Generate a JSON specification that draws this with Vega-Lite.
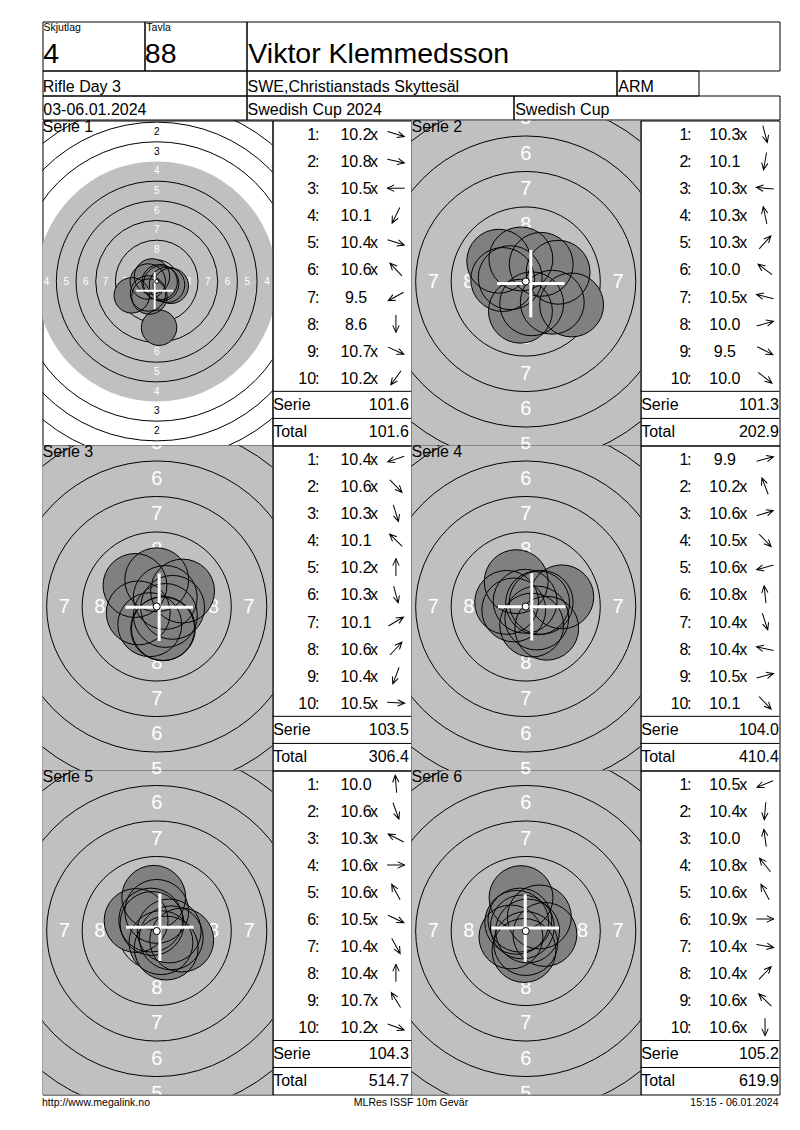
{
  "$schema": "https://vega.github.io/schema/vega-lite/v6.json",
  "padding": {"left": 41.5, "top": 20.5, "right": 0, "bottom": 0},
  "data": {"name": "info"},
  "datasets": {
    "info": [
      {"squad": 4, "lane": 88, "name": "Viktor Klemmedsson", "event": "Rifle Day 3", "club": "SWE,Christianstads Skyttesäl", "cls": "ARM", "date": "03-06.01.2024", "match": "Swedish Cup 2024", "cup": "Swedish Cup", "site": "http://www.megalink.no", "prog": "MLRes ISSF 10m Gevär", "printed": "15:15 - 06.01.2024"}
    ],
    "rings": [
      {"ring": 1, "r": 22.75, "mx": 0, "my": 0},
      {"ring": 2, "r": 20.25, "mx": 0, "my": 0},
      {"ring": 3, "r": 17.75, "mx": 0, "my": 0},
      {"ring": 4, "r": 15.25, "mx": 0, "my": 0},
      {"ring": 5, "r": 12.75, "mx": 0, "my": 0},
      {"ring": 6, "r": 10.25, "mx": 0, "my": 0},
      {"ring": 7, "r": 7.75, "mx": 0, "my": 0},
      {"ring": 8, "r": 5.25, "mx": 0, "my": 0},
      {"ring": 9, "r": 2.75, "mx": 0, "my": 0},
      {"ring": 10, "r": 0.25, "mx": 0, "my": 0}
    ],
    "labels": [
      {"ring": 2, "mx": 0, "my": 19}, {"ring": 2, "mx": 0, "my": -19}, {"ring": 2, "mx": 19, "my": 0}, {"ring": 2, "mx": -19, "my": 0},
      {"ring": 3, "mx": 0, "my": 16.5}, {"ring": 3, "mx": 0, "my": -16.5}, {"ring": 3, "mx": 16.5, "my": 0}, {"ring": 3, "mx": -16.5, "my": 0},
      {"ring": 4, "mx": 0, "my": 14}, {"ring": 4, "mx": 0, "my": -14}, {"ring": 4, "mx": 14, "my": 0}, {"ring": 4, "mx": -14, "my": 0},
      {"ring": 5, "mx": 0, "my": 11.5}, {"ring": 5, "mx": 0, "my": -11.5}, {"ring": 5, "mx": 11.5, "my": 0}, {"ring": 5, "mx": -11.5, "my": 0},
      {"ring": 6, "mx": 0, "my": 9}, {"ring": 6, "mx": 0, "my": -9}, {"ring": 6, "mx": 9, "my": 0}, {"ring": 6, "mx": -9, "my": 0},
      {"ring": 7, "mx": 0, "my": 6.5}, {"ring": 7, "mx": 0, "my": -6.5}, {"ring": 7, "mx": 6.5, "my": 0}, {"ring": 7, "mx": -6.5, "my": 0},
      {"ring": 8, "mx": 0, "my": 4}, {"ring": 8, "mx": 0, "my": -4}, {"ring": 8, "mx": 4, "my": 0}, {"ring": 8, "mx": -4, "my": 0}
    ],
    "shots": [
      {"serie": 1, "n": 1, "score": 10.2, "inner": true, "mx": 1.79, "my": -0.55, "dir": 343},
      {"serie": 1, "n": 2, "score": 10.8, "inner": true, "mx": 0.37, "my": -0.08, "dir": 347},
      {"serie": 1, "n": 3, "score": 10.5, "inner": true, "mx": -1.13, "my": 0, "dir": 180},
      {"serie": 1, "n": 4, "score": 10.1, "inner": false, "mx": -0.93, "my": -1.91, "dir": 244},
      {"serie": 1, "n": 5, "score": 10.4, "inner": true, "mx": 1.31, "my": -0.42, "dir": 342},
      {"serie": 1, "n": 6, "score": 10.6, "inner": true, "mx": -0.6, "my": 0.64, "dir": 133},
      {"serie": 1, "n": 7, "score": 9.5, "inner": false, "mx": -3.17, "my": -1.76, "dir": 209},
      {"serie": 1, "n": 8, "score": 8.6, "inner": false, "mx": 0.3, "my": -5.87, "dir": 270},
      {"serie": 1, "n": 9, "score": 10.7, "inner": true, "mx": 0.57, "my": -0.25, "dir": 336},
      {"serie": 1, "n": 10, "score": 10.2, "inner": true, "mx": -1.1, "my": -1.52, "dir": 234},
      {"serie": 2, "n": 1, "score": 10.3, "inner": true, "mx": 0.42, "my": -1.57, "dir": 285},
      {"serie": 2, "n": 2, "score": 10.1, "inner": false, "mx": -0.37, "my": -2.09, "dir": 260},
      {"serie": 2, "n": 3, "score": 10.3, "inner": true, "mx": -1.62, "my": 0.14, "dir": 175},
      {"serie": 2, "n": 4, "score": 10.3, "inner": true, "mx": -0.34, "my": 1.59, "dir": 102},
      {"serie": 2, "n": 5, "score": 10.3, "inner": true, "mx": 1.09, "my": 1.21, "dir": 48},
      {"serie": 2, "n": 6, "score": 10.0, "inner": false, "mx": -1.9, "my": 1.43, "dir": 143},
      {"serie": 2, "n": 7, "score": 10.5, "inner": true, "mx": -1.09, "my": 0.27, "dir": 166},
      {"serie": 2, "n": 8, "score": 10.0, "inner": false, "mx": 2.28, "my": 0.65, "dir": 16},
      {"serie": 2, "n": 9, "score": 9.5, "inner": false, "mx": 3.23, "my": -1.65, "dir": 333},
      {"serie": 2, "n": 10, "score": 10.0, "inner": false, "mx": 1.87, "my": -1.46, "dir": 322},
      {"serie": 3, "n": 1, "score": 10.4, "inner": true, "mx": -1.3, "my": -0.45, "dir": 199},
      {"serie": 3, "n": 2, "score": 10.6, "inner": true, "mx": 0.61, "my": -0.63, "dir": 314},
      {"serie": 3, "n": 3, "score": 10.3, "inner": true, "mx": 0.47, "my": -1.55, "dir": 287},
      {"serie": 3, "n": 4, "score": 10.1, "inner": false, "mx": -1.53, "my": 1.48, "dir": 136},
      {"serie": 3, "n": 5, "score": 10.2, "inner": true, "mx": 0, "my": 1.88, "dir": 90},
      {"serie": 3, "n": 6, "score": 10.3, "inner": true, "mx": 0.42, "my": -1.57, "dir": 285},
      {"serie": 3, "n": 7, "score": 10.1, "inner": false, "mx": 1.82, "my": 1.09, "dir": 31},
      {"serie": 3, "n": 8, "score": 10.6, "inner": true, "mx": 0.6, "my": 0.64, "dir": 47},
      {"serie": 3, "n": 9, "score": 10.4, "inner": true, "mx": -0.49, "my": -1.28, "dir": 249},
      {"serie": 3, "n": 10, "score": 10.5, "inner": true, "mx": 1.12, "my": -0.06, "dir": 357},
      {"serie": 4, "n": 1, "score": 9.9, "inner": false, "mx": 2.54, "my": 0.68, "dir": 15},
      {"serie": 4, "n": 2, "score": 10.2, "inner": true, "mx": -0.67, "my": 1.75, "dir": 111},
      {"serie": 4, "n": 3, "score": 10.6, "inner": true, "mx": 0.84, "my": 0.26, "dir": 17},
      {"serie": 4, "n": 4, "score": 10.5, "inner": true, "mx": 0.78, "my": -0.81, "dir": 314},
      {"serie": 4, "n": 5, "score": 10.6, "inner": true, "mx": -0.84, "my": -0.24, "dir": 196},
      {"serie": 4, "n": 6, "score": 10.8, "inner": true, "mx": -0.04, "my": 0.37, "dir": 96},
      {"serie": 4, "n": 7, "score": 10.4, "inner": true, "mx": 0.42, "my": -1.31, "dir": 288},
      {"serie": 4, "n": 8, "score": 10.4, "inner": true, "mx": -1.34, "my": 0.29, "dir": 168},
      {"serie": 4, "n": 9, "score": 10.5, "inner": true, "mx": 1.09, "my": 0.29, "dir": 15},
      {"serie": 4, "n": 10, "score": 10.1, "inner": false, "mx": 1.48, "my": -1.53, "dir": 314},
      {"serie": 5, "n": 1, "score": 10.0, "inner": false, "mx": -0.21, "my": 2.37, "dir": 95},
      {"serie": 5, "n": 2, "score": 10.6, "inner": true, "mx": 0.3, "my": -0.82, "dir": 290},
      {"serie": 5, "n": 3, "score": 10.3, "inner": true, "mx": -1.45, "my": 0.74, "dir": 153},
      {"serie": 5, "n": 4, "score": 10.6, "inner": true, "mx": 0.88, "my": 0, "dir": 0},
      {"serie": 5, "n": 5, "score": 10.6, "inner": true, "mx": -0.42, "my": 0.77, "dir": 119},
      {"serie": 5, "n": 6, "score": 10.5, "inner": true, "mx": 1.02, "my": -0.48, "dir": 335},
      {"serie": 5, "n": 7, "score": 10.4, "inner": true, "mx": 0.67, "my": -1.2, "dir": 299},
      {"serie": 5, "n": 8, "score": 10.4, "inner": true, "mx": 0, "my": 1.38, "dir": 90},
      {"serie": 5, "n": 9, "score": 10.7, "inner": true, "mx": -0.33, "my": 0.53, "dir": 122},
      {"serie": 5, "n": 10, "score": 10.2, "inner": true, "mx": 1.76, "my": -0.64, "dir": 340},
      {"serie": 6, "n": 1, "score": 10.5, "inner": true, "mx": -1.04, "my": -0.42, "dir": 202},
      {"serie": 6, "n": 2, "score": 10.4, "inner": true, "mx": -0.12, "my": -1.37, "dir": 265},
      {"serie": 6, "n": 3, "score": 10.0, "inner": false, "mx": -0.33, "my": 2.35, "dir": 98},
      {"serie": 6, "n": 4, "score": 10.8, "inner": true, "mx": -0.24, "my": 0.29, "dir": 129},
      {"serie": 6, "n": 5, "score": 10.6, "inner": true, "mx": -0.41, "my": 0.77, "dir": 118},
      {"serie": 6, "n": 6, "score": 10.9, "inner": true, "mx": 0.13, "my": 0, "dir": 0},
      {"serie": 6, "n": 7, "score": 10.4, "inner": true, "mx": 1.35, "my": -0.24, "dir": 350},
      {"serie": 6, "n": 8, "score": 10.4, "inner": true, "mx": 0.96, "my": 0.99, "dir": 46},
      {"serie": 6, "n": 9, "score": 10.6, "inner": true, "mx": -0.63, "my": 0.61, "dir": 136},
      {"serie": 6, "n": 10, "score": 10.6, "inner": true, "mx": 0, "my": -0.88, "dir": 270}
    ],
    "summary": [
      {"serie": 1, "label": "Serie", "value": 101.6}, {"serie": 1, "label": "Total", "value": 101.6},
      {"serie": 2, "label": "Serie", "value": 101.3}, {"serie": 2, "label": "Total", "value": 202.9},
      {"serie": 3, "label": "Serie", "value": 103.5}, {"serie": 3, "label": "Total", "value": 306.4},
      {"serie": 4, "label": "Serie", "value": 104.0}, {"serie": 4, "label": "Total", "value": 410.4},
      {"serie": 5, "label": "Serie", "value": 104.3}, {"serie": 5, "label": "Total", "value": 514.7},
      {"serie": 6, "label": "Serie", "value": 105.2}, {"serie": 6, "label": "Total", "value": 619.9}
    ]
  },
  "columns": 1,
  "align": "none",
  "spacing": -3,
  "resolve": {"scale": {"size": "independent"}},
  "concat": [
    {
      "columns": 1, "align": "none", "spacing": -2,
      "concat": [
        {
          "spacing": 0, "bounds": "flush",
          "hconcat": [
            {"width": 102, "height": 49, "layer": [
              {"mark": {"type": "text", "text": "Skjutlag", "align": "left", "baseline": "alphabetic", "fontSize": 10.5, "dx": 1, "dy": 9.2},
               "encoding": {"x": {"datum": 0, "type": "quantitative", "scale": {"domain": [0, 1]}}, "y": {"datum": 1, "type": "quantitative", "scale": {"domain": [0, 1]}}}},
              {"mark": {"type": "text", "align": "left", "baseline": "alphabetic", "fontSize": 28.5, "dx": 0.8, "dy": -7.2},
               "encoding": {"x": {"datum": 0, "type": "quantitative", "scale": {"domain": [0, 1]}}, "y": {"datum": 0, "type": "quantitative", "scale": {"domain": [0, 1]}}, "text": {"field": "squad", "type": "nominal"}}}
            ]},
            {"width": 102, "height": 49, "layer": [
              {"mark": {"type": "text", "text": "Tavla", "align": "left", "baseline": "alphabetic", "fontSize": 10.5, "dx": 1.8, "dy": 9.2},
               "encoding": {"x": {"datum": 0, "type": "quantitative", "scale": {"domain": [0, 1]}}, "y": {"datum": 1, "type": "quantitative", "scale": {"domain": [0, 1]}}}},
              {"mark": {"type": "text", "align": "left", "baseline": "alphabetic", "fontSize": 28.5, "dx": 0.3, "dy": -7.2},
               "encoding": {"x": {"datum": 0, "type": "quantitative", "scale": {"domain": [0, 1]}}, "y": {"datum": 0, "type": "quantitative", "scale": {"domain": [0, 1]}}, "text": {"field": "lane", "type": "nominal"}}}
            ]},
            {"width": 533, "height": 49,
             "mark": {"type": "text", "align": "left", "baseline": "alphabetic", "fontSize": 28.5, "dx": 1.8, "dy": -7.2},
             "encoding": {"x": {"datum": 0, "type": "quantitative", "scale": {"domain": [0, 1]}}, "y": {"datum": 0, "type": "quantitative", "scale": {"domain": [0, 1]}}, "text": {"field": "name", "type": "nominal"}}}
          ]
        },
        {
          "spacing": 0, "bounds": "flush",
          "hconcat": [
            {"width": 204, "height": 25,
             "mark": {"type": "text", "align": "left", "baseline": "alphabetic", "fontSize": 16, "dx": 0.2, "dy": -3.8},
             "encoding": {"x": {"datum": 0, "type": "quantitative", "scale": {"domain": [0, 1]}}, "y": {"datum": 0, "type": "quantitative", "scale": {"domain": [0, 1]}}, "text": {"field": "event", "type": "nominal"}}},
            {"width": 370, "height": 25,
             "mark": {"type": "text", "align": "left", "baseline": "alphabetic", "fontSize": 16, "dx": 1, "dy": -3.8},
             "encoding": {"x": {"datum": 0, "type": "quantitative", "scale": {"domain": [0, 1]}}, "y": {"datum": 0, "type": "quantitative", "scale": {"domain": [0, 1]}}, "text": {"field": "club", "type": "nominal"}}},
            {"width": 82, "height": 25,
             "mark": {"type": "text", "align": "left", "baseline": "alphabetic", "fontSize": 16, "dx": 1.8, "dy": -3.8},
             "encoding": {"x": {"datum": 0, "type": "quantitative", "scale": {"domain": [0, 1]}}, "y": {"datum": 0, "type": "quantitative", "scale": {"domain": [0, 1]}}, "text": {"field": "cls", "type": "nominal"}}},
            {"width": 81, "height": 25, "mark": {"type": "text", "text": ""}}
          ]
        },
        {
          "spacing": 0, "bounds": "flush",
          "hconcat": [
            {"width": 204, "height": 24,
             "mark": {"type": "text", "align": "left", "baseline": "alphabetic", "fontSize": 16, "dx": 0.8, "dy": -4.5},
             "encoding": {"x": {"datum": 0, "type": "quantitative", "scale": {"domain": [0, 1]}}, "y": {"datum": 0, "type": "quantitative", "scale": {"domain": [0, 1]}}, "text": {"field": "date", "type": "nominal"}}},
            {"width": 267, "height": 24,
             "mark": {"type": "text", "align": "left", "baseline": "alphabetic", "fontSize": 16, "dx": 1, "dy": -4.5},
             "encoding": {"x": {"datum": 0, "type": "quantitative", "scale": {"domain": [0, 1]}}, "y": {"datum": 0, "type": "quantitative", "scale": {"domain": [0, 1]}}, "text": {"field": "match", "type": "nominal"}}},
            {"width": 266, "height": 24,
             "mark": {"type": "text", "align": "left", "baseline": "alphabetic", "fontSize": 16, "dx": 1.7, "dy": -4.5},
             "encoding": {"x": {"datum": 0, "type": "quantitative", "scale": {"domain": [0, 1]}}, "y": {"datum": 0, "type": "quantitative", "scale": {"domain": [0, 1]}}, "text": {"field": "cup", "type": "nominal"}}}
          ]
        }
      ]
    },
    {
      "columns": 1, "align": "none", "spacing": -4,
      "resolve": {"scale": {"size": "independent"}},
      "concat": [
        {
          "spacing": 0, "bounds": "flush", "resolve": {"scale": {"size": "independent"}},
          "hconcat": [
            {"width": 230, "height": 325, "title": "Serie 1",
             "encoding": {
               "x": {"field": "mx", "type": "quantitative", "scale": {"domain": [-14.51, 14.71], "nice": false, "zero": false}},
               "y": {"field": "my", "type": "quantitative", "scale": {"domain": [-20.84, 20.46], "nice": false, "zero": false}}
             },
             "layer": [
               {"data": {"name": "rings"}, "transform": [{"filter": "datum.ring == 4"}],
                "mark": {"type": "point", "shape": "circle", "filled": true, "color": "#c0c0c0", "strokeWidth": 0, "opacity": 1, "clip": true},
                "encoding": {"size": {"field": "r", "type": "quantitative", "scale": {"type": "pow", "exponent": 2, "domain": [0, 22.75], "range": [0, 128232]}}}},
               {"data": {"name": "rings"}, "transform": [{"filter": "datum.ring != 4 && datum.ring < 10"}],
                "mark": {"type": "point", "shape": "circle", "filled": false, "color": "black", "strokeWidth": 1, "opacity": 1, "clip": true},
                "encoding": {"size": {"field": "r", "type": "quantitative"}}},
               {"data": {"name": "labels"},
                "mark": {"type": "text", "fontSize": 10, "baseline": "middle", "clip": true},
                "encoding": {"text": {"field": "ring", "type": "nominal"}, "color": {"condition": {"test": "datum.ring >= 4", "value": "white"}, "value": "black"}}},
               {"data": {"name": "shots"}, "transform": [{"filter": "datum.serie == 1"}],
                "mark": {"type": "point", "shape": "circle", "filled": true, "color": "#808080", "strokeWidth": 0, "size": 1254, "opacity": 1, "clip": true}},
               {"data": {"name": "shots"}, "transform": [{"filter": "datum.serie == 1"}],
                "mark": {"type": "point", "shape": "circle", "filled": false, "color": "black", "strokeWidth": 1, "size": 1254, "opacity": 1, "clip": true}},
               {"data": {"name": "shots"}, "transform": [{"filter": "datum.serie == 1"}, {"aggregate": [{"op": "mean", "field": "mx", "as": "mx"}, {"op": "mean", "field": "my", "as": "my"}]}],
                "mark": {"type": "point", "shape": "M-1,0L1,0M0,-1L0,1", "filled": false, "color": "white", "strokeWidth": 2, "size": 1368, "opacity": 1, "clip": true}},
               {"data": {"name": "rings"}, "transform": [{"filter": "datum.ring == 10"}],
                "mark": {"type": "point", "shape": "circle", "filled": true, "fill": "white", "stroke": "black", "strokeWidth": 1, "opacity": 1, "clip": true},
                "encoding": {"size": {"field": "r", "type": "quantitative"}}}
             ]
            },
            {"width": 139, "height": 325,
             "data": {"name": "shots"},
             "transform": [{"filter": "datum.serie == 1"}],
             "encoding": {"y": {"field": "n", "type": "ordinal", "scale": {"type": "band", "domain": [1, 2, 3, 4, 5, 6, 7, 8, 9, 10, "Serie", "Total"], "paddingInner": 0, "paddingOuter": 0}}},
             "layer": [
               {"mark": {"type": "text", "align": "right", "baseline": "middle", "dy": 1}, "encoding": {"x": {"datum": 0.314, "type": "quantitative", "scale": {"domain": [0, 1]}}, "text": {"field": "n", "type": "nominal"}}},
               {"mark": {"type": "text", "text": ":", "align": "left", "baseline": "middle", "dy": 1}, "encoding": {"x": {"datum": 0.306, "type": "quantitative", "scale": {"domain": [0, 1]}}}},
               {"mark": {"type": "text", "align": "center", "baseline": "middle", "dy": 1}, "encoding": {"x": {"datum": 0.601, "type": "quantitative", "scale": {"domain": [0, 1]}}, "text": {"field": "score", "type": "quantitative", "format": ".1f"}}},
               {"transform": [{"filter": "datum.inner"}], "mark": {"type": "text", "text": "x", "align": "left", "baseline": "middle", "dy": 1}, "encoding": {"x": {"datum": 0.701, "type": "quantitative", "scale": {"domain": [0, 1]}}}},
               {"mark": {"type": "point", "shape": "M-1,0L1,0M0.2,-0.36L1,0L0.2,0.36", "size": 306, "filled": false, "color": "black", "strokeWidth": 1, "opacity": 1}, "encoding": {"x": {"datum": 0.888, "type": "quantitative", "scale": {"domain": [0, 1]}}, "angle": {"field": "dir", "type": "quantitative", "scale": {"domain": [0, 360], "range": [360, 0]}}}},
               {"data": {"name": "summary"}, "transform": [{"filter": "datum.serie == 1"}], "mark": {"type": "rule", "color": "black", "strokeWidth": 1}, "encoding": {"y": {"field": "label", "type": "ordinal", "bandPosition": 0}}},
               {"data": {"name": "summary"}, "transform": [{"filter": "datum.serie == 1"}], "mark": {"type": "text", "align": "left", "baseline": "middle"}, "encoding": {"x": {"datum": 0.005, "type": "quantitative", "scale": {"domain": [0, 1]}}, "y": {"field": "label", "type": "ordinal"}, "text": {"field": "label", "type": "nominal"}}},
               {"data": {"name": "summary"}, "transform": [{"filter": "datum.serie == 1"}], "mark": {"type": "text", "align": "right", "baseline": "middle"}, "encoding": {"x": {"datum": 0.981, "type": "quantitative", "scale": {"domain": [0, 1]}}, "y": {"field": "label", "type": "ordinal"}, "text": {"field": "value", "type": "quantitative", "format": ".1f"}}}
             ]
            },
            {"width": 229, "height": 325, "title": "Serie 2",
             "encoding": {
               "x": {"field": "mx", "type": "quantitative", "scale": {"domain": [-8.04, 8.08], "nice": false, "zero": false}},
               "y": {"field": "my", "type": "quantitative", "scale": {"domain": [-11.55, 11.34], "nice": false, "zero": false}}
             },
             "layer": [
               {"data": {"name": "rings"}, "transform": [{"filter": "datum.ring == 4"}],
                "mark": {"type": "point", "shape": "circle", "filled": true, "color": "#c0c0c0", "strokeWidth": 0, "opacity": 1, "clip": true},
                "encoding": {"size": {"field": "r", "type": "quantitative", "scale": {"type": "pow", "exponent": 2, "domain": [0, 22.75], "range": [0, 417445]}}}},
               {"data": {"name": "rings"}, "transform": [{"filter": "datum.ring != 4 && datum.ring < 10"}],
                "mark": {"type": "point", "shape": "circle", "filled": false, "color": "black", "strokeWidth": 1, "opacity": 1, "clip": true},
                "encoding": {"size": {"field": "r", "type": "quantitative"}}},
               {"data": {"name": "labels"},
                "mark": {"type": "text", "fontSize": 20, "baseline": "middle", "clip": true},
                "encoding": {"text": {"field": "ring", "type": "nominal"}, "color": {"condition": {"test": "datum.ring >= 4", "value": "white"}, "value": "black"}}},
               {"data": {"name": "shots"}, "transform": [{"filter": "datum.serie == 2"}],
                "mark": {"type": "point", "shape": "circle", "filled": true, "color": "#808080", "strokeWidth": 0, "size": 4083, "opacity": 1, "clip": true}},
               {"data": {"name": "shots"}, "transform": [{"filter": "datum.serie == 2"}],
                "mark": {"type": "point", "shape": "circle", "filled": false, "color": "black", "strokeWidth": 1, "size": 4083, "opacity": 1, "clip": true}},
               {"data": {"name": "shots"}, "transform": [{"filter": "datum.serie == 2"}, {"aggregate": [{"op": "mean", "field": "mx", "as": "mx"}, {"op": "mean", "field": "my", "as": "my"}]}],
                "mark": {"type": "point", "shape": "M-1,0L1,0M0,-1L0,1", "filled": false, "color": "white", "strokeWidth": 3, "size": 4550, "opacity": 1, "clip": true}},
               {"data": {"name": "rings"}, "transform": [{"filter": "datum.ring == 10"}],
                "mark": {"type": "point", "shape": "circle", "filled": true, "fill": "white", "stroke": "black", "strokeWidth": 1, "opacity": 1, "clip": true},
                "encoding": {"size": {"field": "r", "type": "quantitative"}}}
             ]
            },
            {"width": 139, "height": 325,
             "data": {"name": "shots"},
             "transform": [{"filter": "datum.serie == 2"}],
             "encoding": {"y": {"field": "n", "type": "ordinal", "scale": {"type": "band", "domain": [1, 2, 3, 4, 5, 6, 7, 8, 9, 10, "Serie", "Total"], "paddingInner": 0, "paddingOuter": 0}}},
             "layer": [
               {"mark": {"type": "text", "align": "right", "baseline": "middle", "dy": 1}, "encoding": {"x": {"datum": 0.345, "type": "quantitative", "scale": {"domain": [0, 1]}}, "text": {"field": "n", "type": "nominal"}}},
               {"mark": {"type": "text", "text": ":", "align": "left", "baseline": "middle", "dy": 1}, "encoding": {"x": {"datum": 0.335, "type": "quantitative", "scale": {"domain": [0, 1]}}}},
               {"mark": {"type": "text", "align": "center", "baseline": "middle", "dy": 1}, "encoding": {"x": {"datum": 0.607, "type": "quantitative", "scale": {"domain": [0, 1]}}, "text": {"field": "score", "type": "quantitative", "format": ".1f"}}},
               {"transform": [{"filter": "datum.inner"}], "mark": {"type": "text", "text": "x", "align": "left", "baseline": "middle", "dy": 1}, "encoding": {"x": {"datum": 0.711, "type": "quantitative", "scale": {"domain": [0, 1]}}}},
               {"mark": {"type": "point", "shape": "M-1,0L1,0M0.2,-0.36L1,0L0.2,0.36", "size": 306, "filled": false, "color": "black", "strokeWidth": 1, "opacity": 1}, "encoding": {"x": {"datum": 0.896, "type": "quantitative", "scale": {"domain": [0, 1]}}, "angle": {"field": "dir", "type": "quantitative", "scale": {"domain": [0, 360], "range": [360, 0]}}}},
               {"data": {"name": "summary"}, "transform": [{"filter": "datum.serie == 2"}], "mark": {"type": "rule", "color": "black", "strokeWidth": 1}, "encoding": {"y": {"field": "label", "type": "ordinal", "bandPosition": 0}}},
               {"data": {"name": "summary"}, "transform": [{"filter": "datum.serie == 2"}], "mark": {"type": "text", "align": "left", "baseline": "middle"}, "encoding": {"x": {"datum": 0.005, "type": "quantitative", "scale": {"domain": [0, 1]}}, "y": {"field": "label", "type": "ordinal"}, "text": {"field": "label", "type": "nominal"}}},
               {"data": {"name": "summary"}, "transform": [{"filter": "datum.serie == 2"}], "mark": {"type": "text", "align": "right", "baseline": "middle"}, "encoding": {"x": {"datum": 0.996, "type": "quantitative", "scale": {"domain": [0, 1]}}, "y": {"field": "label", "type": "ordinal"}, "text": {"field": "value", "type": "quantitative", "format": ".1f"}}}
             ]
            }
          ]
        },
        {
          "spacing": 0, "bounds": "flush", "resolve": {"scale": {"size": "independent"}},
          "hconcat": [
            {"width": 230, "height": 325, "title": "Serie 3",
             "encoding": {
               "x": {"field": "mx", "type": "quantitative", "scale": {"domain": [-8.04, 8.15], "nice": false, "zero": false}},
               "y": {"field": "my", "type": "quantitative", "scale": {"domain": [-11.55, 11.34], "nice": false, "zero": false}}
             },
             "layer": [
               {"data": {"name": "rings"}, "transform": [{"filter": "datum.ring == 4"}],
                "mark": {"type": "point", "shape": "circle", "filled": true, "color": "#c0c0c0", "strokeWidth": 0, "opacity": 1, "clip": true},
                "encoding": {"size": {"field": "r", "type": "quantitative", "scale": {"type": "pow", "exponent": 2, "domain": [0, 22.75], "range": [0, 417445]}}}},
               {"data": {"name": "rings"}, "transform": [{"filter": "datum.ring != 4 && datum.ring < 10"}],
                "mark": {"type": "point", "shape": "circle", "filled": false, "color": "black", "strokeWidth": 1, "opacity": 1, "clip": true},
                "encoding": {"size": {"field": "r", "type": "quantitative"}}},
               {"data": {"name": "labels"},
                "mark": {"type": "text", "fontSize": 20, "baseline": "middle", "clip": true},
                "encoding": {"text": {"field": "ring", "type": "nominal"}, "color": {"condition": {"test": "datum.ring >= 4", "value": "white"}, "value": "black"}}},
               {"data": {"name": "shots"}, "transform": [{"filter": "datum.serie == 3"}],
                "mark": {"type": "point", "shape": "circle", "filled": true, "color": "#808080", "strokeWidth": 0, "size": 4083, "opacity": 1, "clip": true}},
               {"data": {"name": "shots"}, "transform": [{"filter": "datum.serie == 3"}],
                "mark": {"type": "point", "shape": "circle", "filled": false, "color": "black", "strokeWidth": 1, "size": 4083, "opacity": 1, "clip": true}},
               {"data": {"name": "shots"}, "transform": [{"filter": "datum.serie == 3"}, {"aggregate": [{"op": "mean", "field": "mx", "as": "mx"}, {"op": "mean", "field": "my", "as": "my"}]}],
                "mark": {"type": "point", "shape": "M-1,0L1,0M0,-1L0,1", "filled": false, "color": "white", "strokeWidth": 3, "size": 4550, "opacity": 1, "clip": true}},
               {"data": {"name": "rings"}, "transform": [{"filter": "datum.ring == 10"}],
                "mark": {"type": "point", "shape": "circle", "filled": true, "fill": "white", "stroke": "black", "strokeWidth": 1, "opacity": 1, "clip": true},
                "encoding": {"size": {"field": "r", "type": "quantitative"}}}
             ]
            },
            {"width": 139, "height": 325,
             "data": {"name": "shots"},
             "transform": [{"filter": "datum.serie == 3"}],
             "encoding": {"y": {"field": "n", "type": "ordinal", "scale": {"type": "band", "domain": [1, 2, 3, 4, 5, 6, 7, 8, 9, 10, "Serie", "Total"], "paddingInner": 0, "paddingOuter": 0}}},
             "layer": [
               {"mark": {"type": "text", "align": "right", "baseline": "middle", "dy": 1}, "encoding": {"x": {"datum": 0.314, "type": "quantitative", "scale": {"domain": [0, 1]}}, "text": {"field": "n", "type": "nominal"}}},
               {"mark": {"type": "text", "text": ":", "align": "left", "baseline": "middle", "dy": 1}, "encoding": {"x": {"datum": 0.306, "type": "quantitative", "scale": {"domain": [0, 1]}}}},
               {"mark": {"type": "text", "align": "center", "baseline": "middle", "dy": 1}, "encoding": {"x": {"datum": 0.601, "type": "quantitative", "scale": {"domain": [0, 1]}}, "text": {"field": "score", "type": "quantitative", "format": ".1f"}}},
               {"transform": [{"filter": "datum.inner"}], "mark": {"type": "text", "text": "x", "align": "left", "baseline": "middle", "dy": 1}, "encoding": {"x": {"datum": 0.701, "type": "quantitative", "scale": {"domain": [0, 1]}}}},
               {"mark": {"type": "point", "shape": "M-1,0L1,0M0.2,-0.36L1,0L0.2,0.36", "size": 306, "filled": false, "color": "black", "strokeWidth": 1, "opacity": 1}, "encoding": {"x": {"datum": 0.888, "type": "quantitative", "scale": {"domain": [0, 1]}}, "angle": {"field": "dir", "type": "quantitative", "scale": {"domain": [0, 360], "range": [360, 0]}}}},
               {"data": {"name": "summary"}, "transform": [{"filter": "datum.serie == 3"}], "mark": {"type": "rule", "color": "black", "strokeWidth": 1}, "encoding": {"y": {"field": "label", "type": "ordinal", "bandPosition": 0}}},
               {"data": {"name": "summary"}, "transform": [{"filter": "datum.serie == 3"}], "mark": {"type": "text", "align": "left", "baseline": "middle"}, "encoding": {"x": {"datum": 0.005, "type": "quantitative", "scale": {"domain": [0, 1]}}, "y": {"field": "label", "type": "ordinal"}, "text": {"field": "label", "type": "nominal"}}},
               {"data": {"name": "summary"}, "transform": [{"filter": "datum.serie == 3"}], "mark": {"type": "text", "align": "right", "baseline": "middle"}, "encoding": {"x": {"datum": 0.981, "type": "quantitative", "scale": {"domain": [0, 1]}}, "y": {"field": "label", "type": "ordinal"}, "text": {"field": "value", "type": "quantitative", "format": ".1f"}}}
             ]
            },
            {"width": 229, "height": 325, "title": "Serie 4",
             "encoding": {
               "x": {"field": "mx", "type": "quantitative", "scale": {"domain": [-8.04, 8.08], "nice": false, "zero": false}},
               "y": {"field": "my", "type": "quantitative", "scale": {"domain": [-11.55, 11.34], "nice": false, "zero": false}}
             },
             "layer": [
               {"data": {"name": "rings"}, "transform": [{"filter": "datum.ring == 4"}],
                "mark": {"type": "point", "shape": "circle", "filled": true, "color": "#c0c0c0", "strokeWidth": 0, "opacity": 1, "clip": true},
                "encoding": {"size": {"field": "r", "type": "quantitative", "scale": {"type": "pow", "exponent": 2, "domain": [0, 22.75], "range": [0, 417445]}}}},
               {"data": {"name": "rings"}, "transform": [{"filter": "datum.ring != 4 && datum.ring < 10"}],
                "mark": {"type": "point", "shape": "circle", "filled": false, "color": "black", "strokeWidth": 1, "opacity": 1, "clip": true},
                "encoding": {"size": {"field": "r", "type": "quantitative"}}},
               {"data": {"name": "labels"},
                "mark": {"type": "text", "fontSize": 20, "baseline": "middle", "clip": true},
                "encoding": {"text": {"field": "ring", "type": "nominal"}, "color": {"condition": {"test": "datum.ring >= 4", "value": "white"}, "value": "black"}}},
               {"data": {"name": "shots"}, "transform": [{"filter": "datum.serie == 4"}],
                "mark": {"type": "point", "shape": "circle", "filled": true, "color": "#808080", "strokeWidth": 0, "size": 4083, "opacity": 1, "clip": true}},
               {"data": {"name": "shots"}, "transform": [{"filter": "datum.serie == 4"}],
                "mark": {"type": "point", "shape": "circle", "filled": false, "color": "black", "strokeWidth": 1, "size": 4083, "opacity": 1, "clip": true}},
               {"data": {"name": "shots"}, "transform": [{"filter": "datum.serie == 4"}, {"aggregate": [{"op": "mean", "field": "mx", "as": "mx"}, {"op": "mean", "field": "my", "as": "my"}]}],
                "mark": {"type": "point", "shape": "M-1,0L1,0M0,-1L0,1", "filled": false, "color": "white", "strokeWidth": 3, "size": 4550, "opacity": 1, "clip": true}},
               {"data": {"name": "rings"}, "transform": [{"filter": "datum.ring == 10"}],
                "mark": {"type": "point", "shape": "circle", "filled": true, "fill": "white", "stroke": "black", "strokeWidth": 1, "opacity": 1, "clip": true},
                "encoding": {"size": {"field": "r", "type": "quantitative"}}}
             ]
            },
            {"width": 139, "height": 325,
             "data": {"name": "shots"},
             "transform": [{"filter": "datum.serie == 4"}],
             "encoding": {"y": {"field": "n", "type": "ordinal", "scale": {"type": "band", "domain": [1, 2, 3, 4, 5, 6, 7, 8, 9, 10, "Serie", "Total"], "paddingInner": 0, "paddingOuter": 0}}},
             "layer": [
               {"mark": {"type": "text", "align": "right", "baseline": "middle", "dy": 1}, "encoding": {"x": {"datum": 0.345, "type": "quantitative", "scale": {"domain": [0, 1]}}, "text": {"field": "n", "type": "nominal"}}},
               {"mark": {"type": "text", "text": ":", "align": "left", "baseline": "middle", "dy": 1}, "encoding": {"x": {"datum": 0.335, "type": "quantitative", "scale": {"domain": [0, 1]}}}},
               {"mark": {"type": "text", "align": "center", "baseline": "middle", "dy": 1}, "encoding": {"x": {"datum": 0.607, "type": "quantitative", "scale": {"domain": [0, 1]}}, "text": {"field": "score", "type": "quantitative", "format": ".1f"}}},
               {"transform": [{"filter": "datum.inner"}], "mark": {"type": "text", "text": "x", "align": "left", "baseline": "middle", "dy": 1}, "encoding": {"x": {"datum": 0.711, "type": "quantitative", "scale": {"domain": [0, 1]}}}},
               {"mark": {"type": "point", "shape": "M-1,0L1,0M0.2,-0.36L1,0L0.2,0.36", "size": 306, "filled": false, "color": "black", "strokeWidth": 1, "opacity": 1}, "encoding": {"x": {"datum": 0.896, "type": "quantitative", "scale": {"domain": [0, 1]}}, "angle": {"field": "dir", "type": "quantitative", "scale": {"domain": [0, 360], "range": [360, 0]}}}},
               {"data": {"name": "summary"}, "transform": [{"filter": "datum.serie == 4"}], "mark": {"type": "rule", "color": "black", "strokeWidth": 1}, "encoding": {"y": {"field": "label", "type": "ordinal", "bandPosition": 0}}},
               {"data": {"name": "summary"}, "transform": [{"filter": "datum.serie == 4"}], "mark": {"type": "text", "align": "left", "baseline": "middle"}, "encoding": {"x": {"datum": 0.005, "type": "quantitative", "scale": {"domain": [0, 1]}}, "y": {"field": "label", "type": "ordinal"}, "text": {"field": "label", "type": "nominal"}}},
               {"data": {"name": "summary"}, "transform": [{"filter": "datum.serie == 4"}], "mark": {"type": "text", "align": "right", "baseline": "middle"}, "encoding": {"x": {"datum": 0.996, "type": "quantitative", "scale": {"domain": [0, 1]}}, "y": {"field": "label", "type": "ordinal"}, "text": {"field": "value", "type": "quantitative", "format": ".1f"}}}
             ]
            }
          ]
        },
        {
          "spacing": 0, "bounds": "flush", "resolve": {"scale": {"size": "independent"}},
          "hconcat": [
            {"width": 230, "height": 324, "title": "Serie 5",
             "encoding": {
               "x": {"field": "mx", "type": "quantitative", "scale": {"domain": [-8.04, 8.15], "nice": false, "zero": false}},
               "y": {"field": "my", "type": "quantitative", "scale": {"domain": [-11.51, 11.3], "nice": false, "zero": false}}
             },
             "layer": [
               {"data": {"name": "rings"}, "transform": [{"filter": "datum.ring == 4"}],
                "mark": {"type": "point", "shape": "circle", "filled": true, "color": "#c0c0c0", "strokeWidth": 0, "opacity": 1, "clip": true},
                "encoding": {"size": {"field": "r", "type": "quantitative", "scale": {"type": "pow", "exponent": 2, "domain": [0, 22.75], "range": [0, 417445]}}}},
               {"data": {"name": "rings"}, "transform": [{"filter": "datum.ring != 4 && datum.ring < 10"}],
                "mark": {"type": "point", "shape": "circle", "filled": false, "color": "black", "strokeWidth": 1, "opacity": 1, "clip": true},
                "encoding": {"size": {"field": "r", "type": "quantitative"}}},
               {"data": {"name": "labels"},
                "mark": {"type": "text", "fontSize": 20, "baseline": "middle", "clip": true},
                "encoding": {"text": {"field": "ring", "type": "nominal"}, "color": {"condition": {"test": "datum.ring >= 4", "value": "white"}, "value": "black"}}},
               {"data": {"name": "shots"}, "transform": [{"filter": "datum.serie == 5"}],
                "mark": {"type": "point", "shape": "circle", "filled": true, "color": "#808080", "strokeWidth": 0, "size": 4083, "opacity": 1, "clip": true}},
               {"data": {"name": "shots"}, "transform": [{"filter": "datum.serie == 5"}],
                "mark": {"type": "point", "shape": "circle", "filled": false, "color": "black", "strokeWidth": 1, "size": 4083, "opacity": 1, "clip": true}},
               {"data": {"name": "shots"}, "transform": [{"filter": "datum.serie == 5"}, {"aggregate": [{"op": "mean", "field": "mx", "as": "mx"}, {"op": "mean", "field": "my", "as": "my"}]}],
                "mark": {"type": "point", "shape": "M-1,0L1,0M0,-1L0,1", "filled": false, "color": "white", "strokeWidth": 3, "size": 4550, "opacity": 1, "clip": true}},
               {"data": {"name": "rings"}, "transform": [{"filter": "datum.ring == 10"}],
                "mark": {"type": "point", "shape": "circle", "filled": true, "fill": "white", "stroke": "black", "strokeWidth": 1, "opacity": 1, "clip": true},
                "encoding": {"size": {"field": "r", "type": "quantitative"}}}
             ]
            },
            {"width": 139, "height": 324,
             "data": {"name": "shots"},
             "transform": [{"filter": "datum.serie == 5"}],
             "encoding": {"y": {"field": "n", "type": "ordinal", "scale": {"type": "band", "domain": [1, 2, 3, 4, 5, 6, 7, 8, 9, 10, "Serie", "Total"], "paddingInner": 0, "paddingOuter": 0}}},
             "layer": [
               {"mark": {"type": "text", "align": "right", "baseline": "middle", "dy": 1}, "encoding": {"x": {"datum": 0.314, "type": "quantitative", "scale": {"domain": [0, 1]}}, "text": {"field": "n", "type": "nominal"}}},
               {"mark": {"type": "text", "text": ":", "align": "left", "baseline": "middle", "dy": 1}, "encoding": {"x": {"datum": 0.306, "type": "quantitative", "scale": {"domain": [0, 1]}}}},
               {"mark": {"type": "text", "align": "center", "baseline": "middle", "dy": 1}, "encoding": {"x": {"datum": 0.601, "type": "quantitative", "scale": {"domain": [0, 1]}}, "text": {"field": "score", "type": "quantitative", "format": ".1f"}}},
               {"transform": [{"filter": "datum.inner"}], "mark": {"type": "text", "text": "x", "align": "left", "baseline": "middle", "dy": 1}, "encoding": {"x": {"datum": 0.701, "type": "quantitative", "scale": {"domain": [0, 1]}}}},
               {"mark": {"type": "point", "shape": "M-1,0L1,0M0.2,-0.36L1,0L0.2,0.36", "size": 306, "filled": false, "color": "black", "strokeWidth": 1, "opacity": 1}, "encoding": {"x": {"datum": 0.888, "type": "quantitative", "scale": {"domain": [0, 1]}}, "angle": {"field": "dir", "type": "quantitative", "scale": {"domain": [0, 360], "range": [360, 0]}}}},
               {"data": {"name": "summary"}, "transform": [{"filter": "datum.serie == 5"}], "mark": {"type": "rule", "color": "black", "strokeWidth": 1}, "encoding": {"y": {"field": "label", "type": "ordinal", "bandPosition": 0}}},
               {"data": {"name": "summary"}, "transform": [{"filter": "datum.serie == 5"}], "mark": {"type": "text", "align": "left", "baseline": "middle"}, "encoding": {"x": {"datum": 0.005, "type": "quantitative", "scale": {"domain": [0, 1]}}, "y": {"field": "label", "type": "ordinal"}, "text": {"field": "label", "type": "nominal"}}},
               {"data": {"name": "summary"}, "transform": [{"filter": "datum.serie == 5"}], "mark": {"type": "text", "align": "right", "baseline": "middle"}, "encoding": {"x": {"datum": 0.981, "type": "quantitative", "scale": {"domain": [0, 1]}}, "y": {"field": "label", "type": "ordinal"}, "text": {"field": "value", "type": "quantitative", "format": ".1f"}}}
             ]
            },
            {"width": 229, "height": 324, "title": "Serie 6",
             "encoding": {
               "x": {"field": "mx", "type": "quantitative", "scale": {"domain": [-8.04, 8.08], "nice": false, "zero": false}},
               "y": {"field": "my", "type": "quantitative", "scale": {"domain": [-11.51, 11.3], "nice": false, "zero": false}}
             },
             "layer": [
               {"data": {"name": "rings"}, "transform": [{"filter": "datum.ring == 4"}],
                "mark": {"type": "point", "shape": "circle", "filled": true, "color": "#c0c0c0", "strokeWidth": 0, "opacity": 1, "clip": true},
                "encoding": {"size": {"field": "r", "type": "quantitative", "scale": {"type": "pow", "exponent": 2, "domain": [0, 22.75], "range": [0, 417445]}}}},
               {"data": {"name": "rings"}, "transform": [{"filter": "datum.ring != 4 && datum.ring < 10"}],
                "mark": {"type": "point", "shape": "circle", "filled": false, "color": "black", "strokeWidth": 1, "opacity": 1, "clip": true},
                "encoding": {"size": {"field": "r", "type": "quantitative"}}},
               {"data": {"name": "labels"},
                "mark": {"type": "text", "fontSize": 20, "baseline": "middle", "clip": true},
                "encoding": {"text": {"field": "ring", "type": "nominal"}, "color": {"condition": {"test": "datum.ring >= 4", "value": "white"}, "value": "black"}}},
               {"data": {"name": "shots"}, "transform": [{"filter": "datum.serie == 6"}],
                "mark": {"type": "point", "shape": "circle", "filled": true, "color": "#808080", "strokeWidth": 0, "size": 4083, "opacity": 1, "clip": true}},
               {"data": {"name": "shots"}, "transform": [{"filter": "datum.serie == 6"}],
                "mark": {"type": "point", "shape": "circle", "filled": false, "color": "black", "strokeWidth": 1, "size": 4083, "opacity": 1, "clip": true}},
               {"data": {"name": "shots"}, "transform": [{"filter": "datum.serie == 6"}, {"aggregate": [{"op": "mean", "field": "mx", "as": "mx"}, {"op": "mean", "field": "my", "as": "my"}]}],
                "mark": {"type": "point", "shape": "M-1,0L1,0M0,-1L0,1", "filled": false, "color": "white", "strokeWidth": 3, "size": 4550, "opacity": 1, "clip": true}},
               {"data": {"name": "rings"}, "transform": [{"filter": "datum.ring == 10"}],
                "mark": {"type": "point", "shape": "circle", "filled": true, "fill": "white", "stroke": "black", "strokeWidth": 1, "opacity": 1, "clip": true},
                "encoding": {"size": {"field": "r", "type": "quantitative"}}}
             ]
            },
            {"width": 139, "height": 324,
             "data": {"name": "shots"},
             "transform": [{"filter": "datum.serie == 6"}],
             "encoding": {"y": {"field": "n", "type": "ordinal", "scale": {"type": "band", "domain": [1, 2, 3, 4, 5, 6, 7, 8, 9, 10, "Serie", "Total"], "paddingInner": 0, "paddingOuter": 0}}},
             "layer": [
               {"mark": {"type": "text", "align": "right", "baseline": "middle", "dy": 1}, "encoding": {"x": {"datum": 0.345, "type": "quantitative", "scale": {"domain": [0, 1]}}, "text": {"field": "n", "type": "nominal"}}},
               {"mark": {"type": "text", "text": ":", "align": "left", "baseline": "middle", "dy": 1}, "encoding": {"x": {"datum": 0.335, "type": "quantitative", "scale": {"domain": [0, 1]}}}},
               {"mark": {"type": "text", "align": "center", "baseline": "middle", "dy": 1}, "encoding": {"x": {"datum": 0.607, "type": "quantitative", "scale": {"domain": [0, 1]}}, "text": {"field": "score", "type": "quantitative", "format": ".1f"}}},
               {"transform": [{"filter": "datum.inner"}], "mark": {"type": "text", "text": "x", "align": "left", "baseline": "middle", "dy": 1}, "encoding": {"x": {"datum": 0.711, "type": "quantitative", "scale": {"domain": [0, 1]}}}},
               {"mark": {"type": "point", "shape": "M-1,0L1,0M0.2,-0.36L1,0L0.2,0.36", "size": 306, "filled": false, "color": "black", "strokeWidth": 1, "opacity": 1}, "encoding": {"x": {"datum": 0.896, "type": "quantitative", "scale": {"domain": [0, 1]}}, "angle": {"field": "dir", "type": "quantitative", "scale": {"domain": [0, 360], "range": [360, 0]}}}},
               {"data": {"name": "summary"}, "transform": [{"filter": "datum.serie == 6"}], "mark": {"type": "rule", "color": "black", "strokeWidth": 1}, "encoding": {"y": {"field": "label", "type": "ordinal", "bandPosition": 0}}},
               {"data": {"name": "summary"}, "transform": [{"filter": "datum.serie == 6"}], "mark": {"type": "text", "align": "left", "baseline": "middle"}, "encoding": {"x": {"datum": 0.005, "type": "quantitative", "scale": {"domain": [0, 1]}}, "y": {"field": "label", "type": "ordinal"}, "text": {"field": "label", "type": "nominal"}}},
               {"data": {"name": "summary"}, "transform": [{"filter": "datum.serie == 6"}], "mark": {"type": "text", "align": "right", "baseline": "middle"}, "encoding": {"x": {"datum": 0.996, "type": "quantitative", "scale": {"domain": [0, 1]}}, "y": {"field": "label", "type": "ordinal"}, "text": {"field": "value", "type": "quantitative", "format": ".1f"}}}
             ]
            }
          ]
        }
      ]
    },
    {"width": 737, "height": 14, "view": {"stroke": null},
     "encoding": {"y": {"datum": 0, "type": "quantitative", "scale": {"domain": [0, 1]}}},
     "layer": [
       {"mark": {"type": "text", "align": "left", "baseline": "alphabetic", "fontSize": 10.5, "dx": -0.5, "dy": -0.8}, "encoding": {"x": {"datum": 0, "type": "quantitative", "scale": {"domain": [0, 1]}}, "text": {"field": "site", "type": "nominal"}}},
       {"mark": {"type": "text", "align": "center", "baseline": "alphabetic", "fontSize": 10.5, "dy": -0.8}, "encoding": {"x": {"datum": 0.5, "type": "quantitative", "scale": {"domain": [0, 1]}}, "text": {"field": "prog", "type": "nominal"}}},
       {"mark": {"type": "text", "align": "right", "baseline": "alphabetic", "fontSize": 10.5, "dx": -1, "dy": -0.8}, "encoding": {"x": {"datum": 1, "type": "quantitative", "scale": {"domain": [0, 1]}}, "text": {"field": "printed", "type": "nominal"}}}
     ]
    }
  ],
  "config": {
    "view": {"stroke": "black", "strokeWidth": 1},
    "concat": {"spacing": 0},
    "axis": {"disable": true},
    "legend": {"disable": true},
    "point": {"opacity": 1},
    "text": {"font": "Liberation Sans", "color": "black", "fontSize": 16},
    "title": {"font": "Liberation Sans", "fontSize": 16, "fontWeight": "normal", "color": "black", "anchor": "start", "offset": -14, "baseline": "alphabetic"}
  }
}
